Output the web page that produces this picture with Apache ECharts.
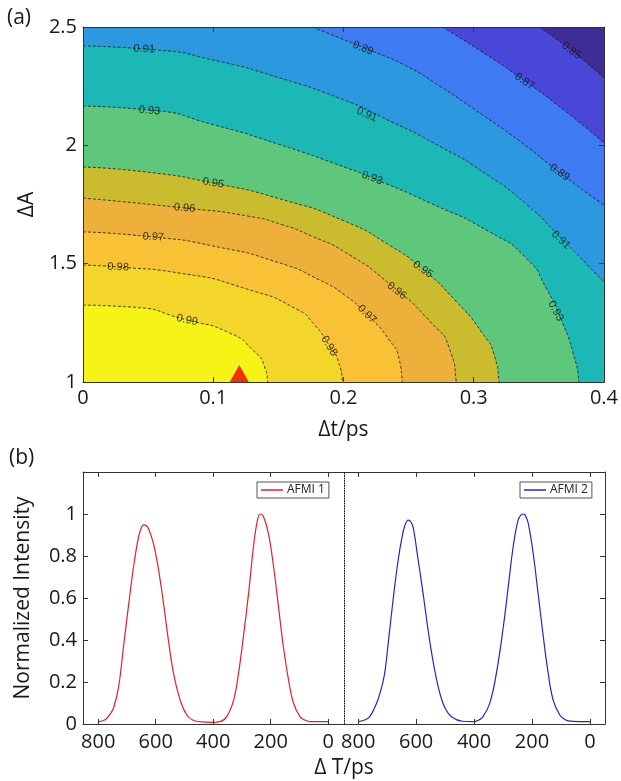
<!DOCTYPE html>
<html>
<head>
<meta charset="utf-8">
<script src="https://cdn.jsdelivr.net/npm/echarts@6/dist/echarts.min.js"></script>
<style>
html, body { margin: 0; padding: 0; background: #fff; }
#main { width: 621px; height: 781px; }
</style>
</head>
<body>
<div id="main"></div>
<script>
// (a) contour lines, points are [dt (ps), dA]
var c099 = [[0, 1.325], [0.036, 1.317], [0.0797, 1.262], [0.1126, 1.207], [0.1303, 1.135], [0.1395, 1.063], [0.1418, 1.0]];
var c098 = [[0, 1.494], [0.0268, 1.486], [0.0743, 1.46], [0.1257, 1.393], [0.164, 1.308], [0.1778, 1.241], [0.1893, 1.152], [0.1962, 1.084], [0.1992, 1.0]];
var c097 = [[0, 1.634], [0.0536, 1.613], [0.0996, 1.575], [0.151, 1.503], [0.1816, 1.431], [0.2008, 1.368], [0.2176, 1.287], [0.2352, 1.177], [0.2429, 1.093], [0.2452, 1.0]];
var c096 = [[0, 1.777], [0.0782, 1.735], [0.1257, 1.702], [0.1533, 1.664], [0.1762, 1.615], [0.2008, 1.55], [0.2352, 1.415], [0.2682, 1.245], [0.2812, 1.144], [0.2866, 1.0]];
var c095 = [[0, 1.908], [0.049, 1.887], [0.0996, 1.841], [0.151, 1.774], [0.2008, 1.68], [0.2352, 1.578], [0.2605, 1.478], [0.2866, 1.34], [0.3065, 1.207], [0.3157, 1.114], [0.3195, 1.0]];
var c093 = [[0, 2.166], [0.0513, 2.149], [0.0996, 2.088], [0.151, 2.003], [0.2008, 1.908], [0.2222, 1.862], [0.2659, 1.758], [0.3119, 1.635], [0.3402, 1.524], [0.3563, 1.39], [0.3678, 1.255], [0.3762, 1.124], [0.3808, 1.0]];
var c091 = [[0, 2.42], [0.0567, 2.403], [0.0996, 2.361], [0.151, 2.285], [0.2008, 2.191], [0.2276, 2.124], [0.2736, 1.997], [0.3119, 1.87], [0.3402, 1.752], [0.3655, 1.617], [0.4, 1.422]];
var c089 = [[0.1762, 2.5], [0.1969, 2.454], [0.2199, 2.403], [0.2483, 2.335], [0.2736, 2.251], [0.2989, 2.158], [0.3372, 2.01], [0.3655, 1.887], [0.4, 1.748]];
var c087 = [[0.2759, 2.5], [0.3042, 2.403], [0.3349, 2.289], [0.3693, 2.149], [0.4, 2.01]];
var c085 = [[0.3502, 2.5], [0.3747, 2.403], [0.4, 2.285]];

// contour label text and where it sits
var labelText = ['0.91', '0.93', '0.95', '0.96', '0.97', '0.98', '0.99', '0.98', '0.97', '0.96', '0.95', '0.93', '0.91', '0.93', '0.91', '0.89', '0.89', '0.87', '0.85'];
var labelPos = [[0.047, 2.407], [0.051, 2.147], [0.100, 1.841], [0.078, 1.735], [0.054, 1.613], [0.027, 1.486], [0.080, 1.262],
  [0.189, 1.152], [0.218, 1.287], [0.241, 1.385], [0.261, 1.475], [0.363, 1.30], [0.367, 1.60],
  [0.222, 1.862], [0.218, 2.13], [0.215, 2.41], [0.366, 1.885], [0.339, 2.27], [0.375, 2.40]];
var labelAngle = [-3, -5, -9, -4, -3, -2, -12, -58, -45, -38, -34, -62, -43, -20, -24, -22, -34, -34, -36];

// optimum point
var optimum = [[0.12, 1.0]];

// (b) intensity traces, [dT (ps), normalized intensity]
var afmi1 = [[800, 0.011], [776, 0.02], [760, 0.045], [747, 0.075], [729, 0.178], [712, 0.37], [695, 0.56], [677, 0.75], [660, 0.89], [650, 0.935], [642, 0.948], [633, 0.945], [625, 0.93], [608, 0.86], [590, 0.733], [573, 0.575], [556, 0.40], [538, 0.241], [515, 0.114], [492, 0.043], [470, 0.018], [440, 0.01], [400, 0.008], [376, 0.011], [353, 0.035], [329, 0.114], [312, 0.241], [295, 0.416], [277, 0.622], [260, 0.844], [248, 0.956], [237, 1.0], [225, 0.987], [208, 0.908], [190, 0.749], [173, 0.559], [156, 0.368], [138, 0.21], [121, 0.10], [98, 0.035], [80, 0.018], [63, 0.011], [0, 0.011]];
var afmi2 = [[800, 0.011], [780, 0.018], [760, 0.035], [737, 0.098], [725, 0.146], [710, 0.23], [696, 0.39], [677, 0.622], [662, 0.781], [650, 0.88], [639, 0.945], [627, 0.971], [618, 0.962], [610, 0.935], [593, 0.781], [576, 0.622], [563, 0.49], [550, 0.368], [535, 0.25], [518, 0.146], [500, 0.075], [478, 0.035], [440, 0.013], [403, 0.011], [385, 0.018], [369, 0.035], [346, 0.098], [323, 0.241], [299, 0.463], [282, 0.654], [265, 0.844], [248, 0.971], [236, 0.998], [230, 1.0], [222, 0.99], [213, 0.956], [196, 0.813], [179, 0.622], [161, 0.416], [144, 0.241], [127, 0.114], [104, 0.043], [85, 0.02], [69, 0.014], [0, 0.011]];
var dTTicks = [0, 200, 400, 600, 800];

var FONT = '"Open Sans", "Noto Sans", sans-serif';
var AX = '#333';

// band colour under each contour (region of lower values)
var contours = [
  { pts: c099, color: '#F4D62B', bottom: true },
  { pts: c098, color: '#F9C135', bottom: true },
  { pts: c097, color: '#EDB13B', bottom: true },
  { pts: c096, color: '#CBBC2F', bottom: true },
  { pts: c095, color: '#5EC77C', bottom: true },
  { pts: c093, color: '#1BB8B6', bottom: true },
  { pts: c091, color: '#2C98DF', bottom: false },
  { pts: c089, color: '#3E7BF3', bottom: false },
  { pts: c087, color: '#4947D8', bottom: false },
  { pts: c085, color: '#3E2D97', bottom: false }
];

function contourSeries(c) {
  var d = c.pts.slice();
  if (c.bottom) {
    // close the filled region below the frame, it is clipped away
    var last = d[d.length - 1];
    d.push([last[0] + 0.0005, 0.96]);
    d.push([0.41, 0.96]);
  }
  return {
    type: 'line',
    xAxisIndex: 0,
    yAxisIndex: 0,
    data: d,
    smooth: 0.65,
    symbol: 'none',
    silent: true,
    lineStyle: { color: '#1a1a1a', width: 0.8, type: [3, 2] },
    areaStyle: { color: c.color, opacity: 1, origin: 'end' }
  };
}

function frameAxis(grid, pos, extra) {
  var a = {
    gridIndex: grid,
    position: pos,
    type: 'value',
    z: 10,
    axisLine: { show: true, onZero: false, lineStyle: { color: AX, width: 1 } },
    axisTick: { show: true, inside: true, length: 5, lineStyle: { color: AX } },
    axisLabel: { show: false },
    splitLine: { show: false }
  };
  for (var k in extra) a[k] = extra[k];
  return a;
}

var tickLabel = { show: true, fontSize: 20, color: '#1a1a1a', fontFamily: FONT };

var series = contours.map(contourSeries);

series.push({
  type: 'scatter',
  xAxisIndex: 0,
  yAxisIndex: 0,
  symbolSize: 2,
  silent: true,
  itemStyle: { color: 'rgba(0,0,0,0)' },
  z: 5,
  data: labelPos.map(function (p, i) {
    return {
      value: p,
      name: labelText[i],
      label: { rotate: labelAngle[i] }
    };
  }),
  label: {
    show: true,
    position: 'inside',
    formatter: '{b}',
    fontSize: 11,
    color: '#111',
    fontFamily: '"Liberation Sans", sans-serif'
  }
});

series.push({
  type: 'scatter',
  xAxisIndex: 0,
  yAxisIndex: 0,
  data: optimum,
  symbol: 'triangle',
  symbolSize: [19, 17],
  symbolOffset: [0, -8.5],
  clip: false,
  z: 20,
  itemStyle: { color: '#F00000' }
});

series.push({
  type: 'line',
  name: 'AFMI 1',
  xAxisIndex: 2,
  yAxisIndex: 2,
  data: afmi1,
  smooth: 0.4,
  symbol: 'none',
  lineStyle: { color: '#E0202A', width: 1.2 },
  itemStyle: { color: '#E0202A' }
});
series.push({
  type: 'line',
  name: 'AFMI 2',
  xAxisIndex: 4,
  yAxisIndex: 3,
  data: afmi2,
  smooth: 0.4,
  symbol: 'none',
  lineStyle: { color: '#2525C8', width: 1.2 },
  itemStyle: { color: '#2525C8' }
});

var legendBase = {
  orient: 'horizontal',
  top: 482,
  icon: 'rect',
  itemWidth: 22,
  itemHeight: 1.5,
  padding: [2, 4],
  borderColor: '#555',
  borderWidth: 1,
  borderRadius: 0,
  backgroundColor: '#fff',
  textStyle: { fontSize: 12, color: '#222', fontFamily: FONT, padding: [0, 0, 0, -1] }
};

var option = {
  animation: false,
  backgroundColor: '#fff',
  textStyle: { fontFamily: FONT },
  grid: [
    { left: 83, top: 27, width: 522, height: 355, show: true, backgroundColor: '#F6F316', borderWidth: 0 },
    { left: 83, top: 472, width: 261, height: 252 },
    { left: 344, top: 472, width: 261, height: 252 }
  ],
  legend: [
    Object.assign({ data: ['AFMI 1'], left: 257 }, legendBase),
    Object.assign({ data: ['AFMI 2'], left: 520 }, legendBase)
  ],
  xAxis: [
    frameAxis(0, 'bottom', {
      min: 0, max: 0.4, interval: 0.1,
      axisLabel: Object.assign({ margin: 6 }, tickLabel),
      name: 'Δt/ps', nameLocation: 'middle', nameGap: 38,
      nameTextStyle: { fontSize: 21, color: '#1a1a1a', fontFamily: FONT }
    }),
    frameAxis(0, 'top', { min: 0, max: 0.4, interval: 0.1 }),
    frameAxis(1, 'bottom', {
      inverse: true, min: -55, max: 853,
      axisTick: { show: true, inside: true, length: 5, lineStyle: { color: AX }, customValues: dTTicks },
      axisLabel: Object.assign({ margin: 8, customValues: dTTicks }, tickLabel)
    }),
    frameAxis(1, 'top', {
      inverse: true, min: -55, max: 853,
      axisTick: { show: true, inside: true, length: 5, lineStyle: { color: AX }, customValues: dTTicks }
    }),
    frameAxis(2, 'bottom', {
      inverse: true, min: -52, max: 849,
      axisTick: { show: true, inside: true, length: 5, lineStyle: { color: AX }, customValues: dTTicks },
      axisLabel: Object.assign({ margin: 8, customValues: dTTicks }, tickLabel)
    }),
    frameAxis(2, 'top', {
      inverse: true, min: -52, max: 849,
      axisTick: { show: true, inside: true, length: 5, lineStyle: { color: AX }, customValues: dTTicks }
    })
  ],
  yAxis: [
    frameAxis(0, 'left', {
      min: 1, max: 2.5, interval: 0.5,
      axisLabel: Object.assign({ margin: 6 }, tickLabel),
      name: 'ΔA', nameLocation: 'middle', nameGap: 36, nameRotate: 90,
      nameTextStyle: { fontSize: 21, color: '#1a1a1a', fontFamily: FONT }
    }),
    frameAxis(0, 'right', { min: 1, max: 2.5, interval: 0.5 }),
    frameAxis(1, 'left', {
      min: 0, max: 1.2, interval: 0.2,
      axisLabel: Object.assign({ margin: 6, showMaxLabel: false }, tickLabel),
      name: 'Normalized Intensity', nameLocation: 'middle', nameGap: 49, nameRotate: 90,
      nameTextStyle: { fontSize: 21, color: '#1a1a1a', fontFamily: FONT }
    }),
    frameAxis(2, 'left', {
      min: 0, max: 1.2, interval: 0.2,
      axisLine: { show: true, onZero: false, lineStyle: { color: '#111', width: 1, type: [1, 1.5] } },
      axisTick: { show: false }
    }),
    frameAxis(2, 'right', { min: 0, max: 1.2, interval: 0.2 })
  ],
  graphic: [
    { type: 'text', x: 7, y: 8, style: { text: '(a)', font: '21px ' + FONT, fill: '#1a1a1a' } },
    { type: 'text', x: 9, y: 448, style: { text: '(b)', font: '21px ' + FONT, fill: '#1a1a1a' } },
    { type: 'text', x: 344, y: 768, style: { text: 'Δ T/ps', font: '21px ' + FONT, fill: '#1a1a1a', align: 'center', verticalAlign: 'middle' } }
  ],
  series: series
};

var chart = echarts.init(document.getElementById('main'), null, { renderer: 'canvas' });
chart.setOption(option);
</script>
</body>
</html>
